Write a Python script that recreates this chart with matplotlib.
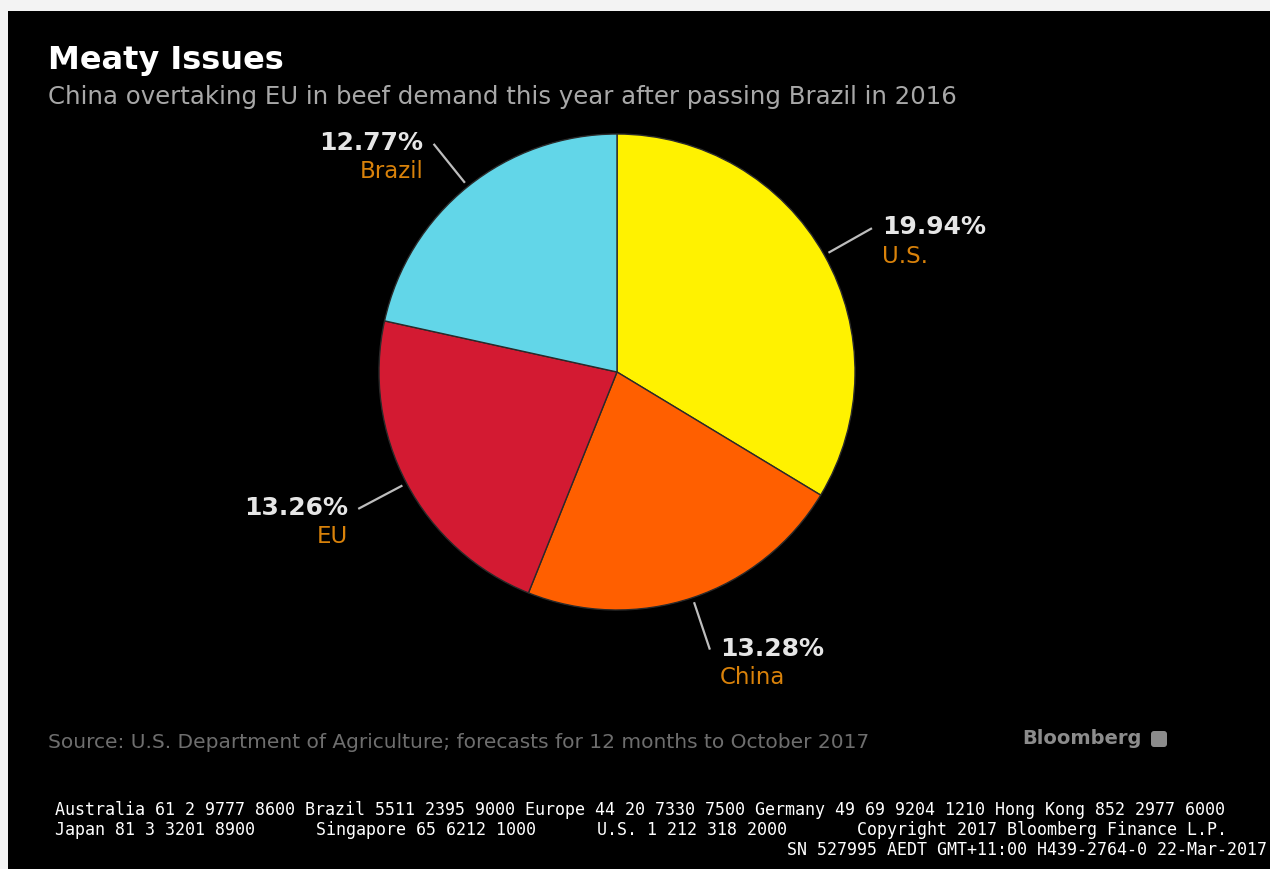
import matplotlib.pyplot as plt
from matplotlib.patches import Rectangle, FancyBboxPatch
import numpy as np

# data
regions = ["U.S.", "China", "EU", "Brazil"]
shares = [19.94, 13.28, 13.26, 12.77]
pct_labels = ["19.94%", "13.28%", "13.26%", "12.77%"]
colors = ["#fff200", "#ff5f00", "#d31a32", "#62d6e8"]

W, H = 1270, 870
fig = plt.figure(figsize=(W / 100, H / 100), dpi=100, facecolor="#f3f3f3")
ax = fig.add_axes([0, 0, 1, 1])


def py(y):
    # image row -> data y (axis points up)
    return H - y


cx, cy, r = 617, py(373), 238
wedges, _ = ax.pie(shares, colors=colors, startangle=90, counterclock=False,
                   center=(cx, cy), radius=r,
                   wedgeprops=dict(edgecolor="#2a2a2a", linewidth=1.0))
for w in wedges:
    w.set_zorder(3)

ax.set_xlim(0, W)
ax.set_ylim(0, H)
ax.set_aspect("equal")
ax.axis("off")

# black panel
ax.add_patch(Rectangle((8, 0), W - 8, H - 12, facecolor="black",
                       edgecolor="none", zorder=0))

# leader lines and labels
for w, name, pct in zip(wedges, regions, pct_labels):
    mid = np.deg2rad((w.theta1 + w.theta2) / 2)
    x0, y0 = cx + 1.02 * r * np.cos(mid), cy + 1.02 * r * np.sin(mid)
    x1, y1 = cx + 1.23 * r * np.cos(mid), cy + 1.23 * r * np.sin(mid)
    ax.plot([x0, x1], [y0, y1], color="#bdbdbd", lw=1.6, zorder=4,
            solid_capstyle="butt")
    right = np.cos(mid) > 0
    tx = x1 + 10 if right else x1 - 10
    ha = "left" if right else "right"
    ax.text(tx, y1 + 2, pct, ha=ha, va="center", fontsize=18,
            fontweight="bold", color="#e6e6e6", zorder=5)
    ax.text(tx, y1 - 27, name, ha=ha, va="center", fontsize=16.5,
            color="#d9820a", zorder=5)

# titles
ax.text(48, py(69), "Meaty Issues", fontsize=23, fontweight="bold",
        color="white", va="baseline", ha="left")
ax.text(48, py(104),
        "China overtaking EU in beef demand this year after passing Brazil in 2016",
        fontsize=17.6, color="#a8a8a8", va="baseline", ha="left")

# source and brand
ax.text(48, py(748),
        "Source: U.S. Department of Agriculture; forecasts for 12 months to October 2017",
        fontsize=14.5, color="#6e6e6e", va="baseline", ha="left")
ax.text(1022, py(739), "Bloomberg", fontsize=14, fontweight="bold",
        color="#8c8c8c", va="center", ha="left")
ax.add_patch(FancyBboxPatch((1151, py(748)), 16, 16,
                            boxstyle="round,pad=0,rounding_size=3",
                            facecolor="#8c8c8c", edgecolor="none"))

# footer
mono = dict(family="DejaVu Sans Mono", fontsize=12, color="white",
            va="baseline")
ax.text(55, py(815),
        "Australia 61 2 9777 8600 Brazil 5511 2395 9000 Europe 44 20 7330 7500 "
        "Germany 49 69 9204 1210 Hong Kong 852 2977 6000", ha="left", **mono)
ax.text(55, py(835), "Japan 81 3 3201 8900", ha="left", **mono)
ax.text(316, py(835), "Singapore 65 6212 1000", ha="left", **mono)
ax.text(597, py(835), "U.S. 1 212 318 2000", ha="left", **mono)
ax.text(857, py(835), "Copyright 2017 Bloomberg Finance L.P.", ha="left", **mono)
ax.text(1267, py(855), "SN 527995 AEDT GMT+11:00 H439-2764-0 22-Mar-2017",
        ha="right", **mono)

fig.savefig("out.png", dpi=100, facecolor=fig.get_facecolor())
